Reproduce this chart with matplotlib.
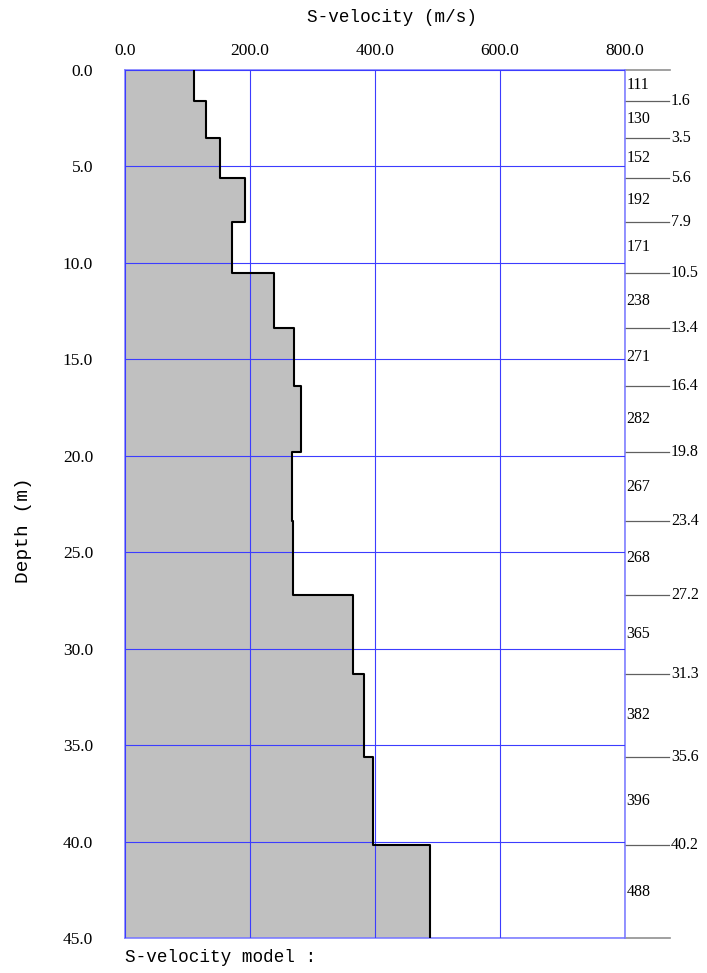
import numpy as np
import matplotlib.pyplot as plt

# layer model: top depth of each layer (m) and shear velocity (m/s)
tops = [0.0, 1.6, 3.5, 5.6, 7.9, 10.5, 13.4, 16.4, 19.8, 23.4, 27.2, 31.3, 35.6, 40.2]
vs = [111, 130, 152, 192, 171, 238, 271, 282, 267, 268, 365, 382, 396, 488]
max_depth = 45.0
x_ticks = [0, 200, 400, 600, 800]
y_ticks = [0, 5, 10, 15, 20, 25, 30, 35, 40, 45]

bottoms = tops[1:] + [max_depth]
serif = 'Liberation Serif'
mono = 'Liberation Mono'

fig = plt.figure(figsize=(7.07, 9.73), dpi=100)
ax = fig.add_axes([125/707, 1 - 938/973, 500/707, 868/973])

# step profile
ys, xs = [], []
for t, b, v in zip(tops, bottoms, vs):
    ys += [t, b]
    xs += [v, v]
ax.fill_betweenx(ys, 0, xs, color='#c0c0c0', lw=0, zorder=1)
ax.plot(xs, ys, color='black', lw=1.5, zorder=3)

ax.set_xlim(0, 800)
ax.set_ylim(max_depth, 0)
ax.set_xticks(x_ticks)
ax.set_yticks(y_ticks)
ax.set_xticklabels(['%.1f' % v for v in x_ticks], fontfamily=serif, fontsize=12.5)
ax.set_yticklabels(['%.1f' % v for v in y_ticks], fontfamily=serif, fontsize=12.5)
ax.xaxis.tick_top()
ax.tick_params(length=0)
ax.tick_params(axis='x', pad=8)
ax.tick_params(axis='y', pad=23)
ax.grid(True, color='#3c3cff', lw=0.8, zorder=2)
ax.set_axisbelow(False)
for s in ax.spines.values():
    s.set_color('#8080ff')
    s.set_linewidth(1.2)

# right side annotations: layer velocities and boundary depths
trans = ax.get_yaxis_transform()
for t, b, v in zip(tops, bottoms, vs):
    ax.text(1.003, (t + b) / 2, str(v), transform=trans, fontsize=11.5,
            fontfamily=serif, va='center', ha='left', clip_on=False)
for d in tops[1:]:
    ax.plot([1.0, 1.088], [d, d], transform=trans, color='#606060', lw=0.9, clip_on=False)
    ax.text(1.092, d, '%.1f' % d, transform=trans, fontsize=11.5,
            fontfamily=serif, va='center', ha='left', clip_on=False)
for d in [0.0, max_depth]:
    ax.plot([1.0, 1.09], [d, d], transform=trans, color='#909090', lw=1.2, clip_on=False)

fig.text(392/707, 1 - 18/973, 'S-velocity (m/s)', fontfamily=mono, fontsize=12.7,
         ha='center', va='center')
fig.text(24/707, 1 - 530/973, 'Depth (m)', fontfamily=mono, fontsize=14,
         ha='center', va='center', rotation=90)
fig.text(125/707, 1 - 958/973, 'S-velocity model :', fontfamily=mono, fontsize=12.7,
         ha='left', va='center')

fig.savefig('out.png', dpi=100)
